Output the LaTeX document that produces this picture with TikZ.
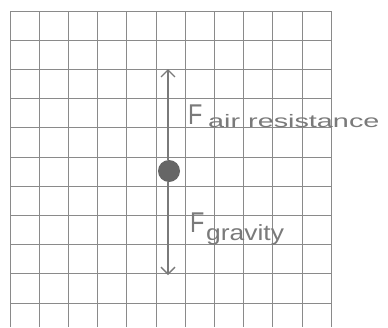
\documentclass[tikz,border=0pt]{standalone}
\usepackage{fontspec}
\setmainfont{Liberation Sans}
\usetikzlibrary{arrows.meta}
\definecolor{gridc}{HTML}{8A8A8A}
\definecolor{penc}{HTML}{7A7A7A}
\definecolor{dotc}{HTML}{666666}
\tikzset{
  gridline/.style={gridc, line width=0.7pt},
  force/.style={penc, line width=2.6pt, -{Straight Barb[length=7pt,width=14pt,line width=1.4pt]}},
  hand/.style={penc, inner sep=0pt, anchor=base west},
}
\begin{document}
\begin{tikzpicture}[x=1pt,y=-1pt]
\useasboundingbox (0,0) rectangle (388,327);
\fill[white] (0,0) rectangle (388,327);
% grid
\foreach \i in {0,...,11} {
  \draw[gridline] ({10+29.2*\i},11) -- ({10+29.2*\i},327);
}
\foreach \j in {0,...,10} {
  \draw[gridline] (10,{11+29.2*\j}) -- (331.2,{11+29.2*\j});
}
% object and forces
\coordinate (top) at (168,69);
\coordinate (bot) at (168,275);
\draw[force] (168,160) -- (top);
\draw[force] (168,182) -- (bot);
\node[circle, fill=dotc, minimum size=22pt, inner sep=0pt] (dot) at (169,171) {};
% labels
\node[hand, font=\fontsize{26}{26}\selectfont] (Fa) at (188,124) {\scalebox{0.9}[1.1]{F}};
\node[hand, font=\fontsize{18}{18}\selectfont] (air) at (208,127) {\scalebox{1.6}[1]{air resistance}};
\node[hand, font=\fontsize{26}{26}\selectfont] (Fg) at (190,232) {\scalebox{0.9}[1.1]{F}};
\node[hand, font=\fontsize{22}{22}\selectfont] (grav) at (206,240) {\scalebox{1.2}[1]{gravity}};
\end{tikzpicture}
\end{document}
